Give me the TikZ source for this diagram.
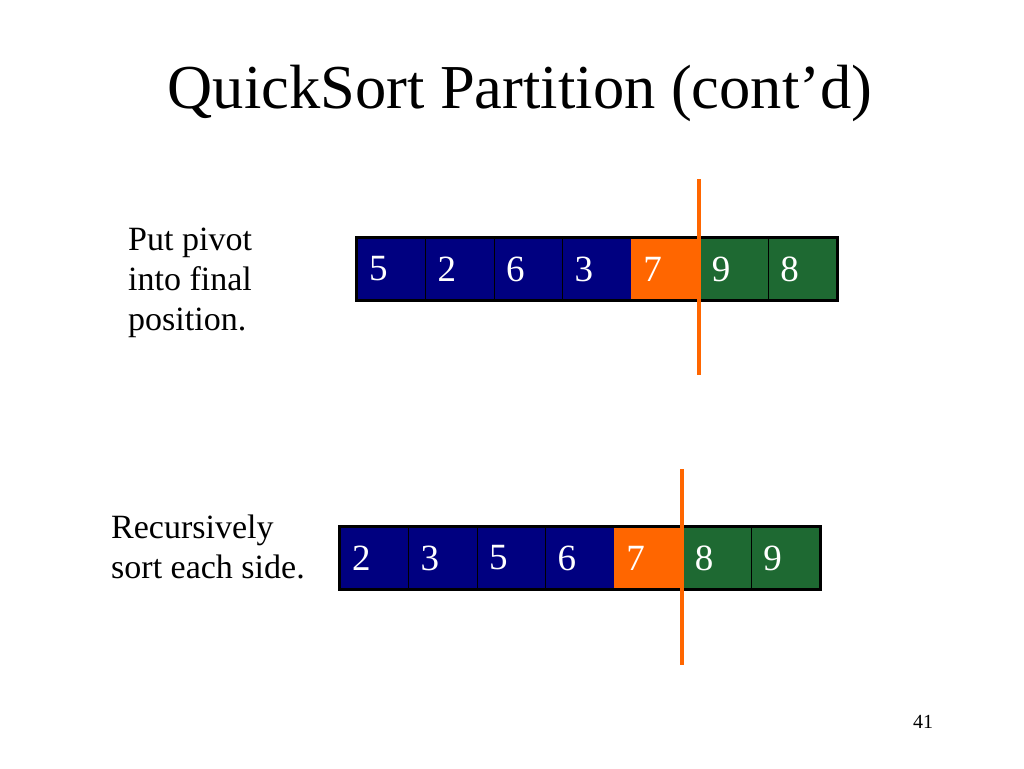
\documentclass[tikz,border=0pt]{standalone}
\usepackage{fontspec}
\setmainfont{Liberation Serif}
\definecolor{navyc}{RGB}{0,0,128}
\definecolor{pivotc}{RGB}{255,102,0}
\definecolor{greenc}{RGB}{30,105,50}
\begin{document}
\begin{tikzpicture}[x=1pt,y=-1pt,
  cell/.style={draw=black, line width=1.2pt, minimum height=62pt, inner xsep=12pt,
    text width=44.57pt, align=left, text=white, inner ysep=0pt,
    font=\fontsize{37}{37}\selectfont},
  lowc/.style={cell, fill=navyc},
  pivc/.style={cell, fill=pivotc, draw=none},
  highc/.style={cell, fill=greenc},
  outline/.style={draw=black, line width=3pt},
  splitline/.style={draw=pivotc, line width=4.5pt},
  label/.style={align=left, anchor=base west, inner sep=0pt, font=\fontsize{34}{40}\selectfont}]
\useasboundingbox (0,0) rectangle (1024,768);

\node[anchor=base, inner sep=0pt, font=\fontsize{62.5}{62.5}\selectfont] (title) at (520,108) {QuickSort Partition (cont’d)};

% top array
\node[lowc]  (t1) at (391.3,269) {5};
\node[lowc]  (t2) at (459.9,269) {2};
\node[lowc]  (t3) at (528.4,269) {6};
\node[lowc]  (t4) at (597.0,269) {3};
\node[pivc]  (t5) at (665.6,269) {7};
\node[highc] (t6) at (734.1,269) {9};
\node[highc] (t7) at (802.7,269) {8};
\draw[outline] (t1.north west) rectangle (t7.south east);
\coordinate (ta) at (699,179);
\coordinate (tb) at (699,375);
\draw[splitline] (ta) -- (tb);

\node[label] (l1) at (128,330) {Put pivot\\into final\\position.};

% bottom array
\node[lowc]  (b1) at (374.3,558) {2};
\node[lowc]  (b2) at (442.9,558) {3};
\node[lowc]  (b3) at (511.4,558) {5};
\node[lowc]  (b4) at (580.0,558) {6};
\node[pivc]  (b5) at (648.6,558) {7};
\node[highc] (b6) at (717.1,558) {8};
\node[highc] (b7) at (785.7,558) {9};
\draw[outline] (b1.north west) rectangle (b7.south east);
\coordinate (ba) at (682,469);
\coordinate (bb) at (682,665);
\draw[splitline] (ba) -- (bb);

\node[label] (l2) at (111,578) {Recursively\\sort each side.};

\node[anchor=base, inner sep=0pt, font=\fontsize{20}{20}\selectfont] (pg) at (923,728) {41};
\end{tikzpicture}
\end{document}
